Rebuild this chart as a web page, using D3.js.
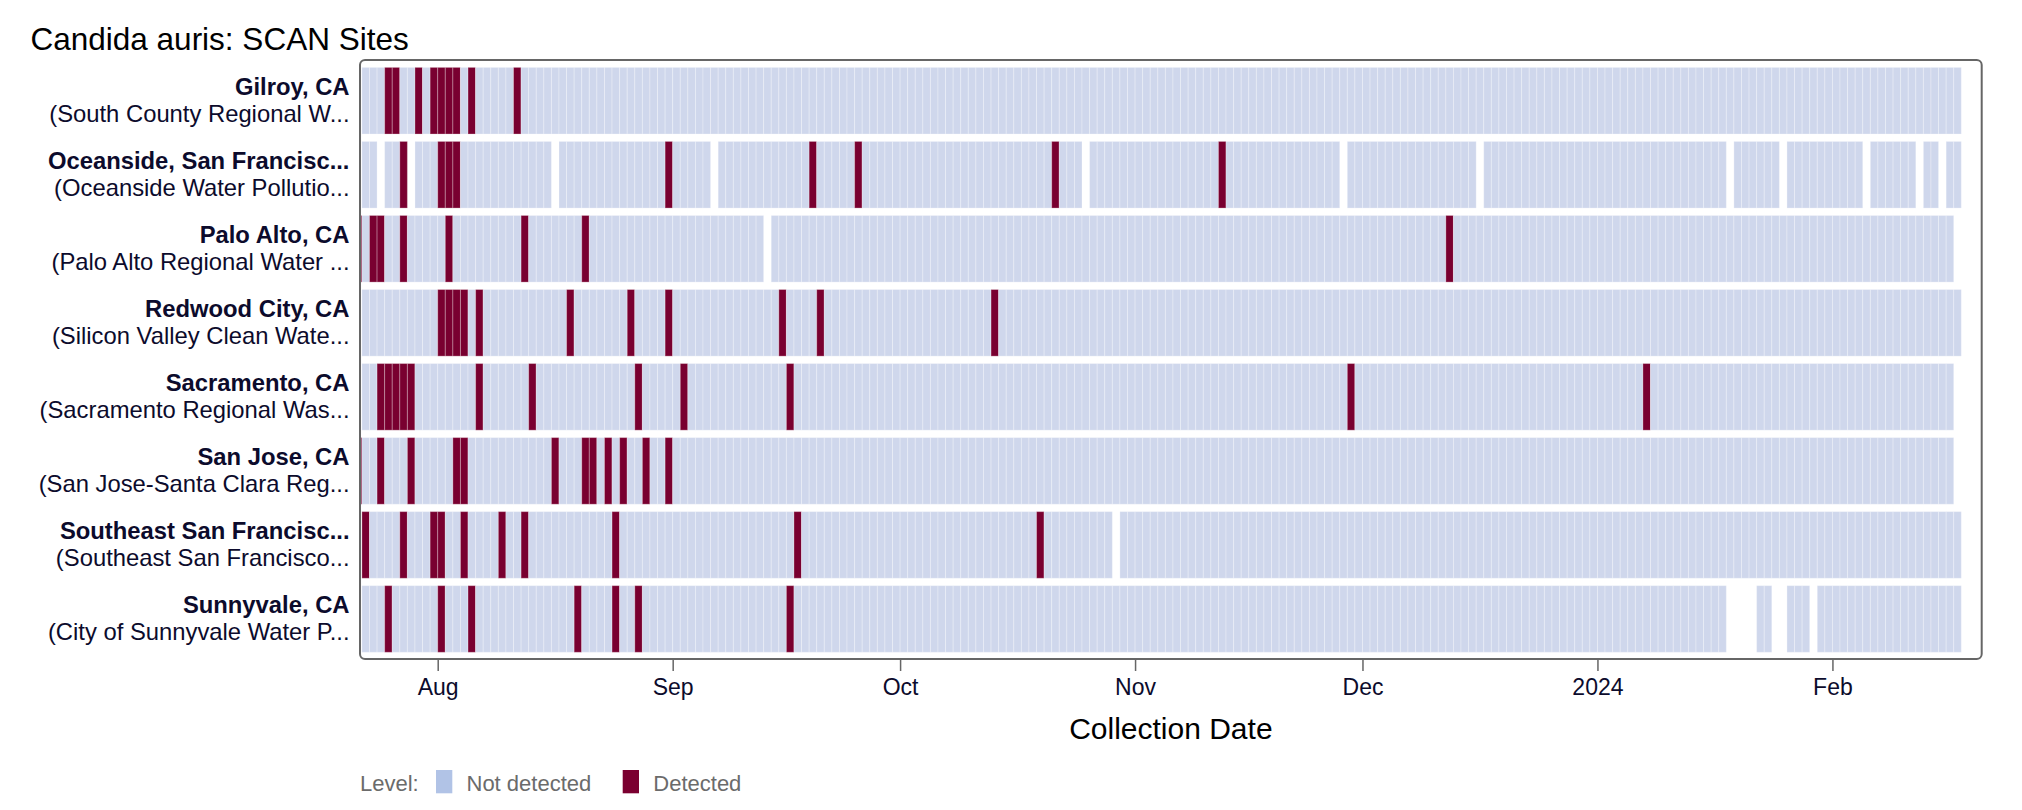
<!DOCTYPE html>
<html>
<head>
<meta charset="utf-8">
<script src="https://cdn.jsdelivr.net/npm/d3@7"></script>
<style>
  html, body { margin: 0; padding: 0; background: #fff; }
  svg { display: block; font-family: "Liberation Sans", Arial, Helvetica, sans-serif; }
</style>
</head>
<body>
<svg id="chart" width="2022" height="810"></svg>
<script>
// ---------------- DATA ----------------
const siteNames = [
  "Gilroy, CA",
  "Oceanside, San Francisc...",
  "Palo Alto, CA",
  "Redwood City, CA",
  "Sacramento, CA",
  "San Jose, CA",
  "Southeast San Francisc...",
  "Sunnyvale, CA"
];
const facilityNames = [
  "(South County Regional W...",
  "(Oceanside Water Pollutio...",
  "(Palo Alto Regional Water ...",
  "(Silicon Valley Clean Wate...",
  "(Sacramento Regional Was...",
  "(San Jose-Santa Clara Reg...",
  "(Southeast San Francisco...",
  "(City of Sunnyvale Water P..."
];
const firstDates = [
  "2023-07-22", "2023-07-22", "2023-07-21", "2023-07-22",
  "2023-07-22", "2023-07-21", "2023-07-22", "2023-07-22"
];
const lastDates = [
  "2024-02-17", "2024-02-17", "2024-02-16", "2024-02-17",
  "2024-02-16", "2024-02-16", "2024-02-17", "2024-02-17"
];
const detectedDates = [
  ["2023-07-25","2023-07-26","2023-07-29","2023-07-31","2023-08-01","2023-08-02","2023-08-03","2023-08-05","2023-08-11"],
  ["2023-07-27","2023-08-01","2023-08-02","2023-08-03","2023-08-31","2023-09-19","2023-09-25","2023-10-21","2023-11-12"],
  ["2023-07-21","2023-07-23","2023-07-24","2023-07-27","2023-08-02","2023-08-12","2023-08-20","2023-12-12"],
  ["2023-08-01","2023-08-02","2023-08-03","2023-08-04","2023-08-06","2023-08-18","2023-08-26","2023-08-31","2023-09-15","2023-09-20","2023-10-13"],
  ["2023-07-24","2023-07-25","2023-07-26","2023-07-27","2023-07-28","2023-08-06","2023-08-13","2023-08-27","2023-09-02","2023-09-16","2023-11-29","2024-01-07"],
  ["2023-07-21","2023-07-24","2023-07-28","2023-08-03","2023-08-04","2023-08-16","2023-08-20","2023-08-21","2023-08-23","2023-08-25","2023-08-28","2023-08-31"],
  ["2023-07-22","2023-07-27","2023-07-31","2023-08-01","2023-08-04","2023-08-09","2023-08-12","2023-08-24","2023-09-17","2023-10-19"],
  ["2023-07-25","2023-08-01","2023-08-05","2023-08-19","2023-08-24","2023-08-27","2023-09-16"]
];
const missingDates = [
  [],
  ["2023-07-24","2023-07-28","2023-08-16","2023-09-06","2023-10-25","2023-11-28","2023-12-16","2024-01-18","2024-01-25","2024-02-05","2024-02-12","2024-02-15"],
  ["2023-09-13"],
  [],
  [],
  [],
  ["2023-10-29"],
  ["2024-01-18","2024-01-19","2024-01-20","2024-01-21","2024-01-24","2024-01-25","2024-01-29"]
];
const levels = ["Not detected", "Detected"];
const levelColors = ["#cfd7ec", "#790030"];
const legendColors = ["#b1c3e6", "#7b0030"];
const xDomainDates = ["2023-07-21T21:08", "2024-02-20T14:24"];

// ---------------- BUILD ----------------
const parseDay = d3.timeParse("%Y-%m-%d");
const parseDT = d3.timeParse("%Y-%m-%dT%H:%M");

const records = [];
siteNames.forEach((site, i) => {
  const det = new Set(detectedDates[i]);
  const miss = new Set(missingDates[i]);
  const fmt = d3.timeFormat("%Y-%m-%d");
  const days = d3.timeDay.range(parseDay(firstDates[i]), d3.timeDay.offset(parseDay(lastDates[i]), 1));
  days.forEach(day => {
    const key = fmt(day);
    if (miss.has(key)) return;
    records.push({ site, date: day, level: det.has(key) ? "Detected" : "Not detected" });
  });
});

const svg = d3.select("#chart");
const plotLeft = 360, plotRight = 1981.7, plotTop = 60, plotBottom = 659;

const x = d3.scaleTime()
  .domain(xDomainDates.map(parseDT))
  .range([361, 1981]);

const y = d3.scaleBand()
  .domain(siteNames)
  .range([63.7, 656])
  .paddingInner(0.1)
  .paddingOuter(0.05);

const color = d3.scaleOrdinal().domain(levels).range(levelColors);

// title
svg.append("text")
  .attr("x", 30.5).attr("y", 50)
  .attr("font-size", 31.5)
  .attr("fill", "#000")
  .text("Candida auris: SCAN Sites");

// clip
svg.append("defs").append("clipPath").attr("id", "plotclip")
  .append("rect")
  .attr("x", 361).attr("y", plotTop)
  .attr("width", 1981 - 361).attr("height", plotBottom - plotTop);

svg.append("g").attr("clip-path", "url(#plotclip)")
  .selectAll("rect")
  .data(records)
  .join("rect")
  .attr("x", d => x(d.date))
  .attr("width", d => x(d3.timeDay.offset(d.date, 1)) - x(d.date))
  .attr("y", d => y(d.site))
  .attr("height", y.bandwidth())
  .attr("fill", d => color(d.level))
  .attr("stroke", "#fff")
  .attr("stroke-opacity", 0.28)
  .attr("stroke-width", 1);

// frame
svg.append("rect")
  .attr("x", plotLeft).attr("y", plotTop)
  .attr("width", plotRight - plotLeft).attr("height", plotBottom - plotTop)
  .attr("rx", 5).attr("ry", 5)
  .attr("fill", "none")
  .attr("stroke", "#666")
  .attr("stroke-width", 2);

// x axis
const tickFmt = d => d.getMonth() === 0 ? d3.timeFormat("%Y")(d) : d3.timeFormat("%b")(d);
const xAxis = svg.append("g")
  .attr("transform", `translate(0,${plotBottom})`)
  .call(d3.axisBottom(x).ticks(d3.timeMonth.every(1)).tickFormat(tickFmt)
    .tickSize(12).tickSizeOuter(0).tickPadding(8));
xAxis.select(".domain").remove();
xAxis.selectAll(".tick line").attr("stroke", "#666").attr("stroke-width", 1.5);
xAxis.selectAll(".tick text")
  .attr("font-size", 23)
  .attr("font-family", "'Liberation Sans', Arial, Helvetica, sans-serif")
  .attr("fill", "#0c0b2c");

svg.append("text")
  .attr("x", (plotLeft + plotRight) / 2).attr("y", 739)
  .attr("text-anchor", "middle")
  .attr("font-size", 30)
  .attr("fill", "#000")
  .text("Collection Date");

// y labels
const labels = svg.append("g");
siteNames.forEach((s, i) => {
  const cy = y(s) + y.bandwidth() / 2;
  const t = labels.append("text")
    .attr("text-anchor", "end")
    .attr("fill", "#0c0b2c")
    .attr("font-size", 23.8);
  t.append("tspan").attr("x", 349.5).attr("y", cy - 5.5)
    .attr("font-weight", "bold").text(s);
  t.append("tspan").attr("x", 349.5).attr("y", cy + 21)
    .text(facilityNames[i]);
});

// legend
const lg = svg.append("g");
lg.append("text").attr("x", 360).attr("y", 790.5)
  .attr("font-size", 22).attr("fill", "#6b6b6b").text("Level:");
const legendItems = [
  { label: levels[0], c: legendColors[0], sx: 436, tx: 466.5 },
  { label: levels[1], c: legendColors[1], sx: 622.7, tx: 653.3 }
];
legendItems.forEach(it => {
  lg.append("rect").attr("x", it.sx).attr("y", 770).attr("width", 16.3).attr("height", 23.3)
    .attr("fill", it.c);
  lg.append("text").attr("x", it.tx).attr("y", 790.5)
    .attr("font-size", 22).attr("fill", "#6b6b6b").text(it.label);
});
</script>
</body>
</html>
